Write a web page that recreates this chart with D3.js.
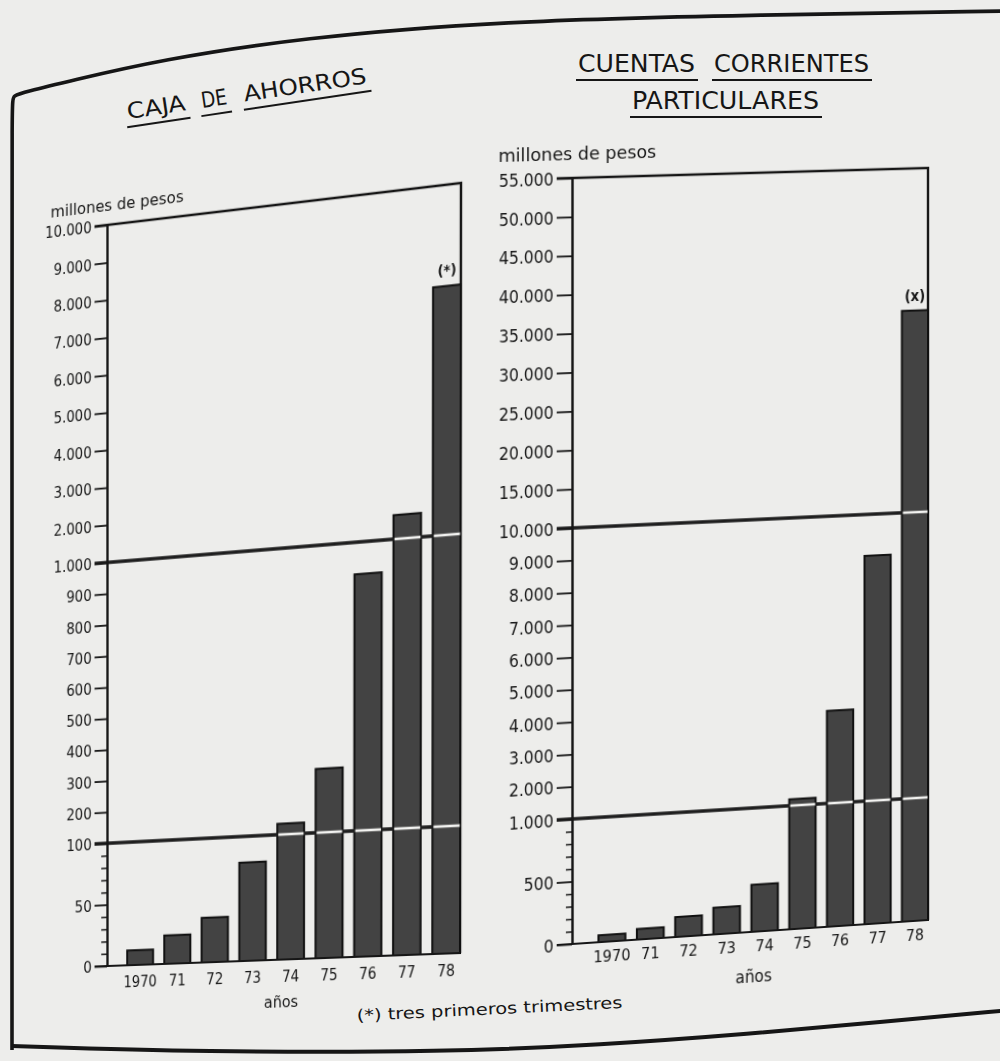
<!DOCTYPE html>
<html><head><meta charset="utf-8">
<script src="https://cdn.jsdelivr.net/npm/d3@7"></script>
<style>
html,body{margin:0;padding:0;background:#ededeb;}
#page{position:relative;width:1000px;height:1061px;overflow:hidden;background:#ededeb;}
svg{position:absolute;left:0;top:0;overflow:visible;}
.panel{transform-origin:0 0;}
text{font-family:'DejaVu Sans Condensed','DejaVu Sans',sans-serif;font-stretch:condensed;fill:#161616;}
</style></head><body><div id="page"></div>
<script>
// ---------- data ----------
const years = ["1970","71","72","73","74","75","76","77","78"];
const cajaAhorros = [12, 23, 36, 79, 134, 300, 900, 1620, 7400];          // millones de pesos
const cuentasCorrientes = [55, 85, 160, 215, 380, 1200, 3900, 8700, 36400]; // millones de pesos
const cajaBreaks = [0, 100, 1000, 10000];
const cajaMajorTicks = [0,50,100,200,300,400,500,600,700,800,900,1000,2000,3000,4000,5000,6000,7000,8000,9000,10000];
const cajaMinorTicks = [10,20,30,40,60,70,80,90];
const ccBreaks = [0, 1000, 10000, 55000];
const ccMajorTicks = [0,500,1000,2000,3000,4000,5000,6000,7000,8000,9000,10000,15000,20000,25000,30000,35000,40000,45000,50000,55000];
const ccMinorTicks = [100,200,300,400,600,700,800,900];
const titleLeft = ["CAJA","DE","AHORROS"];
const titleRight1 = ["CUENTAS","CORRIENTES"];
const titleRight2 = ["PARTICULARES"];
const yLabel = "millones de pesos";
const xLabel = "años";
const footnote = "(*) tres primeros trimestres";

const fmt = d3.formatLocale({decimal:",", thousands:".", grouping:[3], currency:["$",""]}).format(",");

// ---------- perspective helper (page photo is tilted) ----------
function homography(src, dst){
  const A=[], B=[];
  for(let i=0;i<4;i++){
    const [x,y]=src[i], [X,Y]=dst[i];
    A.push([x,y,1,0,0,0,-X*x,-X*y]); B.push(X);
    A.push([0,0,0,x,y,1,-Y*x,-Y*y]); B.push(Y);
  }
  const n=8;
  for(let c=0;c<n;c++){
    let p=c; for(let r=c+1;r<n;r++) if(Math.abs(A[r][c])>Math.abs(A[p][c])) p=r;
    [A[c],A[p]]=[A[p],A[c]]; [B[c],B[p]]=[B[p],B[c]];
    for(let r=0;r<n;r++){ if(r===c) continue; const f=A[r][c]/A[c][c];
      for(let k=c;k<n;k++) A[r][k]-=f*A[c][k]; B[r]-=f*B[c]; }
  }
  const h=B.map((b,i)=>b/A[i][i]);
  const [a,b,c,d,e,f,g,hh]=h;
  return `matrix3d(${a},${d},0,${g},${b},${e},0,${hh},0,0,1,0,${c},${f},0,1)`;
}

const page = d3.select('#page');

// ---------- page-level decorations ----------
const psvg = page.append('svg').attr('width',1000).attr('height',1061);
const ink = '#161616';
psvg.append('path')
  .attr('d', d3.line().curve(d3.curveBasis)([[12,1050],[12,1050],[12,300],[12,100],[13,96],[25,92],[70,81],[160,60],[300,38],[500,21],[750,15],[1010,11]]))
  .attr('fill','none').attr('stroke',ink).attr('stroke-width',3.6);
psvg.append('path')
  .attr('d', d3.line().curve(d3.curveBasis)([[12,1046],[12,1046],[200,1052],[450,1052],[600,1045],[750,1034],[880,1022],[1010,1010]]))
  .attr('fill','none').attr('stroke',ink).attr('stroke-width',4);

function wordRow(g, words, positions, size, underlineDy){
  words.forEach((w,i)=>{
    const [x0,len]=positions[i];
    g.append('text').attr('x',x0).attr('y',0).attr('font-size',size)
      .attr('textLength',len).attr('lengthAdjust','spacingAndGlyphs').text(w);
    g.append('line').attr('x1',x0-2).attr('x2',x0+len+3).attr('y1',underlineDy).attr('y2',underlineDy)
      .attr('stroke',ink).attr('stroke-width',2);
  });
}
wordRow(psvg.append('g').attr('transform','translate(128,119) rotate(-8.5)'),
  titleLeft, [[0,59],[75,26],[118,124]], 22, 8);
wordRow(psvg.append('g').attr('transform','translate(578,72)'),
  titleRight1, [[0,117],[136,155]], 25, 8);
wordRow(psvg.append('g').attr('transform','translate(632,109)'),
  titleRight2, [[0,187]], 25, 8);
psvg.append('text').attr('transform','translate(357,1021) rotate(-2.8)')
  .attr('font-size',16).attr('textLength',266).attr('lengthAdjust','spacingAndGlyphs').text(footnote);

// ---------- panels ----------
function drawPanel(p){
  const svg = page.append('svg').attr('class','panel').attr('width',1000).attr('height',1061)
    .style('transform', homography(p.src, p.dst));
  const y = d3.scaleLinear().domain(p.breaks).range(p.breakY);
  const x = d3.scaleBand().domain(years).range([p.barX0, p.barX1]).paddingInner(0.3).paddingOuter(0);
  const top = p.breaks[p.breaks.length-1];
  const ax = p.axisX;
  const data = p.values.map((v,i)=>({year:years[i], v}));

  // frame (top + right edge)
  svg.append('path').attr('d',`M${ax-p.tick},${y(top)}H${p.frameX}V${y(0)}`)
    .attr('fill','none').attr('stroke',ink).attr('stroke-width',2.4);

  // bars
  svg.append('g').selectAll('rect').data(data).join('rect')
    .attr('x',d=>x(d.year)).attr('y',d=>y(d.v))
    .attr('width',x.bandwidth()).attr('height',d=>y(0)-y(d.v))
    .attr('fill','#434343').attr('stroke','#101010').attr('stroke-width',2);

  // scale-break lines
  p.breaks.slice(1,-1).forEach(b=>{
    svg.append('line').attr('x1',ax-p.tick).attr('x2',p.frameX).attr('y1',y(b)).attr('y2',y(b))
      .attr('stroke','#1e1e1e').attr('stroke-width',3.4);
    svg.append('g').selectAll('line').data(data.filter(d=>d.v>b)).join('line')
      .attr('x1',d=>x(d.year)+1).attr('x2',d=>x(d.year)+x.bandwidth()-0.5)
      .attr('y1',y(b)).attr('y2',y(b))
      .attr('stroke','#f2f2f0').attr('stroke-width',2.8);
  });

  // baseline
  svg.append('line').attr('x1',ax-p.tick).attr('x2',p.frameX).attr('y1',y(0)).attr('y2',y(0))
    .attr('stroke',ink).attr('stroke-width',2);

  // y axis
  const gA = svg.append('g').attr('transform',`translate(${ax},0)`)
    .call(d3.axisLeft(y).tickValues(p.major).tickFormat(fmt).tickSize(p.tick).tickSizeOuter(0).tickPadding(3));
  gA.attr('font-size',p.tfs).attr('font-family',null).style('color',ink);
  gA.select('.domain').attr('stroke-width',2.4);
  gA.selectAll('.tick line').attr('stroke-width',1.8);
  gA.selectAll('.tick text').attr('dy','0.36em');
  const gM = svg.append('g').attr('transform',`translate(${ax},0)`)
    .call(d3.axisLeft(y).tickValues(p.minor).tickFormat('').tickSize(6).tickSizeOuter(0));
  gM.style('color',ink); gM.select('.domain').remove();
  gM.selectAll('.tick line').attr('stroke-width',1.5);

  // x labels
  svg.append('g').selectAll('text').data(data).join('text')
    .attr('x',d=>x(d.year)+x.bandwidth()/2).attr('y',y(0)+p.xlDy)
    .attr('text-anchor','middle').attr('font-size',p.fs).text(d=>d.year);
  svg.append('text').attr('x',p.anosX).attr('y',p.anosY).attr('text-anchor','middle')
    .attr('font-size',p.fs+1).text(xLabel);
  svg.append('text').attr('x',p.ylX).attr('y',p.ylY).attr('font-size',p.fs+1)
    .attr('textLength',p.ylLen).attr('lengthAdjust','spacingAndGlyphs').text(yLabel);

  // partial-year marker on last bar
  const last = data[data.length-1];
  svg.append('text').attr('x',x(last.year)+x.bandwidth()/2).attr('y',y(last.v)-10)
    .attr('text-anchor','middle').attr('font-size',p.fs-1).attr('font-weight','bold').text(p.mark);
}

drawPanel({
  values: cajaAhorros, breaks: cajaBreaks, breakY:[966,843,562,225],
  major: cajaMajorTicks, minor: cajaMinorTicks,
  axisX:107, tick:13, barX0:128, barX1:461, frameX:461, fs:15, tfs:15.5,
  xlDy:22, anosX:285, anosY:1013, ylX:48, ylY:211, ylLen:138, mark:'(*)',
  src:[[107,225],[461,225],[461,966],[107,966]],
  dst:[[107,225],[461,183],[460,953],[107,966]]
});
drawPanel({
  values: cuentasCorrientes, breaks: ccBreaks, breakY:[944,819,528,178],
  major: ccMajorTicks, minor: ccMinorTicks,
  axisX:572, tick:15, barX0:598, barX1:928, frameX:928, fs:16, tfs:17,
  xlDy:20, anosX:752, anosY:995, ylX:500, ylY:160, ylLen:155, mark:'(x)',
  src:[[572,178],[928,178],[928,944],[572,944]],
  dst:[[572,178],[928,168],[928,920],[572,944]]
});
</script></body></html>
